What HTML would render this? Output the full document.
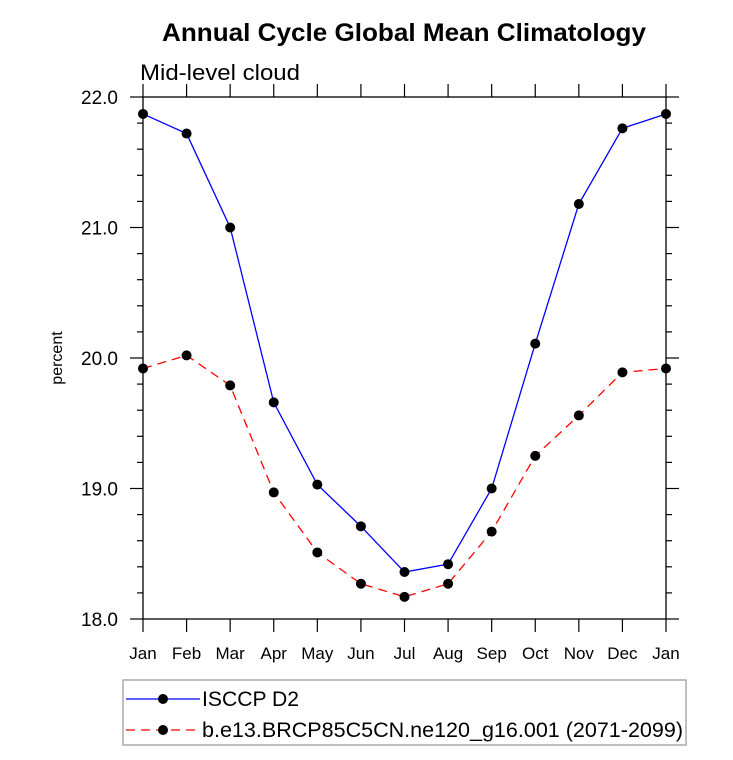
<!DOCTYPE html>
<html><head><meta charset="utf-8"><style>
body{margin:0;background:#fff;font-family:"Liberation Sans",sans-serif}
</style></head><body>
<svg width="733" height="755" xmlns="http://www.w3.org/2000/svg" font-family="Liberation Sans, sans-serif">
<text x="162" y="41" textLength="484" lengthAdjust="spacingAndGlyphs" font-size="25" font-weight="bold">Annual Cycle Global Mean Climatology</text>
<text x="140" y="80" textLength="160" lengthAdjust="spacingAndGlyphs" font-size="22">Mid-level cloud</text>
<text transform="translate(62,358) rotate(-90)" text-anchor="middle" font-size="16">percent</text>
<g id="axes"></g>
<g id="marks"></g>
<rect x="123" y="680" width="563" height="65" fill="none" stroke="#aaa" stroke-width="1.5"/>
<g>
<line x1="126" y1="699" x2="200" y2="699" stroke="#00f" stroke-width="1.3"/>
<circle cx="163" cy="699" r="5" fill="#000"/>
<text x="202" y="706" textLength="97" lengthAdjust="spacingAndGlyphs" font-size="21">ISCCP D2</text></g>
<g>
<line x1="126" y1="730" x2="200" y2="730" stroke="#f00" stroke-width="1.3" stroke-dasharray="9,6"/>
<circle cx="163" cy="730" r="5" fill="#000"/>
<text x="202" y="737" textLength="481" lengthAdjust="spacingAndGlyphs" font-size="21">b.e13.BRCP85C5CN.ne120_g16.001 (2071-2099)</text></g>
</svg>
<script>
const months=["Jan","Feb","Mar","Apr","May","Jun","Jul","Aug","Sep","Oct","Nov","Dec","Jan"];
const isccp=[21.87,21.72,21.0,19.66,19.03,18.71,18.36,18.42,19.0,20.11,21.18,21.76,21.87];
const model=[19.92,20.02,19.79,18.97,18.51,18.27,18.17,18.27,18.67,19.25,19.56,19.89,19.92];
const yTicks=[18.0,19.0,20.0,21.0,22.0];
const L=143,R=666,T=97,B=619,ymin=18,ymax=22;
const xs=i=>L+(R-L)*i/(months.length-1);
const ys=v=>B-(B-T)*(v-ymin)/(ymax-ymin);
const NS="http://www.w3.org/2000/svg";
const ax=document.getElementById('axes'),mk=document.getElementById('marks');
function mkEl(t,a,p){const e=document.createElementNS(NS,t);for(const k in a)e.setAttribute(k,a[k]);p.appendChild(e);return e;}
const frame=mkEl('rect',{x:L,y:T,width:R-L,height:B-T,fill:'none',stroke:'#000','stroke-width':1.3},ax);


months.forEach((m,i)=>{const x=xs(i);
mkEl('line',{x1:x,y1:B,x2:x,y2:B+13,stroke:'#000','stroke-width':1.2},ax);
mkEl('line',{x1:x,y1:T,x2:x,y2:T-13,stroke:'#000','stroke-width':1.2},ax);
const t=mkEl('text',{x:x,y:659,'text-anchor':'middle','font-size':17},ax);t.textContent=m;

});
for(let v=ymin;v<=ymax+1e-9;v+=0.2){const y=ys(v);const major=Math.abs(v-Math.round(v))<1e-6;const len=major?13:6;
mkEl('line',{x1:L,y1:y,x2:L-len,y2:y,stroke:'#000','stroke-width':1.2},ax);
mkEl('line',{x1:R,y1:y,x2:R+len,y2:y,stroke:'#000','stroke-width':1.2},ax);}
yTicks.forEach(v=>{const t=mkEl('text',{x:118,y:ys(v)+7,'text-anchor':'end','font-size':19},ax);t.textContent=v.toFixed(1);

});
function series(d,color,dash,name){
const pl=mkEl('polyline',{points:d.map((v,i)=>xs(i)+','+ys(v)).join(' '),fill:'none',stroke:color,'stroke-width':1.3,'stroke-dasharray':dash},mk);


d.forEach((v,i)=>{const c=mkEl('circle',{cx:xs(i),cy:ys(v),r:5,fill:'#000'},mk);

});}
series(isccp,'#00f','none','isccp');
series(model,'#f00','9,6','model');
</script>
</body></html>
